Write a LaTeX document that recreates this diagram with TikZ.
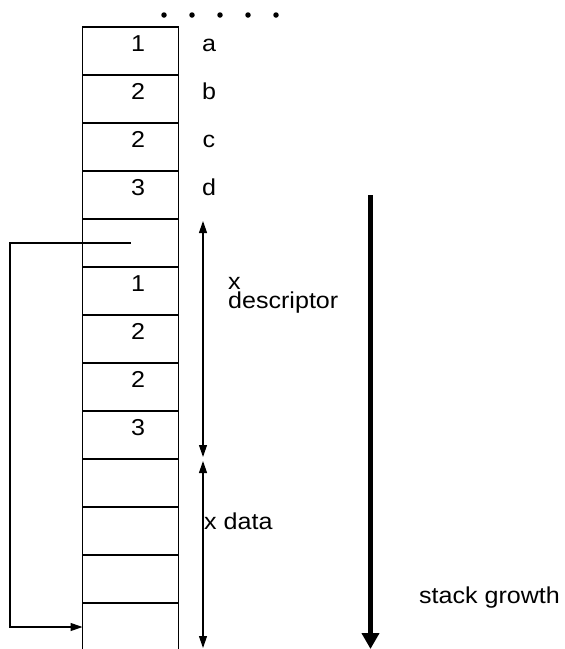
\documentclass[tikz,border=0pt]{standalone}
\usepackage{fontspec}
\setmainfont{Liberation Sans}[FakeStretch=1.09]
\usetikzlibrary{arrows.meta}
\begin{document}
\begin{tikzpicture}[x=1pt,y=-1pt,
  cell/.style={draw, line width=1.4pt, minimum width=96pt, minimum height=48pt,
               inner sep=0pt, outer sep=0pt},
  lbl/.style={font=\fontsize{23}{22}\selectfont, inner sep=0pt, anchor=base},
  lblw/.style={lbl, anchor=base west},
  thin/.style={line width=1.2pt},
  span/.style={thin, {Triangle[width=8pt,length=12pt]}-{Triangle[width=8pt,length=12pt]}},
  ptr/.style={thin, -{Triangle[width=8pt,length=12pt]}},
  growth/.style={line width=4.5pt, -{Triangle[width=17pt,length=16pt]}},
  dot/.style={circle, fill, inner sep=0pt, minimum size=5.5pt}]
\useasboundingbox (0,0) rectangle (565,649);

% stack cells
\foreach \i in {1,...,12}
  \node[cell] (c\i) at (130.5, {27+48*(\i-1)+24}) {};
% last cell, open at the bottom
\node[minimum width=96pt, minimum height=46pt, inner sep=0pt, outer sep=0pt] (c13) at (130.5, 626) {};
\draw[line width=1.4pt] (c13.south west) -- (c13.north west) -- (c13.north east) -- (c13.south east);

% continuation dots
\foreach \k in {0,...,4}
  \node[dot] (d\k) at ({164+28*\k}, 15) {};

% values in the cells
\node[lbl] (n1) at (138, 51) {1};
\node[lbl] (n2) at (138, 99) {2};
\node[lbl] (n3) at (138, 147) {2};
\node[lbl] (n4) at (138, 195) {3};
\node[lbl] (n6) at (138, 291) {1};
\node[lbl] (n7) at (138, 339) {2};
\node[lbl] (n8) at (138, 387) {2};
\node[lbl] (n9) at (138, 435) {3};

% parameter names
\node[lbl] (la) at (209, 51) {a};
\node[lbl] (lb) at (209, 99) {b};
\node[lbl] (lc) at (209, 147) {c};
\node[lbl] (ld) at (209, 195) {d};

% extents of descriptor and data
\coordinate (s1) at (203, 221);
\coordinate (s2) at (203, 457);
\coordinate (s3) at (203, 461);
\coordinate (s4) at (203, 648);
\draw[span] (s1) -- (s2);
\draw[span] (s3) -- (s4);
\node[lblw] (xname) at (228, 289) {x};
\node[lblw] (xdesc) at (228, 308) {descriptor};
\node[lblw] (xdata) at (204, 529) {x data};

% pointer from the descriptor to the data
\coordinate (p1) at (10, 243);
\coordinate (p2) at (10, 627);
\draw[ptr] (c5.center) -- (p1) -- (p2) -- (p2 -| c13.west);

% direction of growth
\coordinate (g1) at (370.5, 195);
\coordinate (g2) at (370.5, 649);
\draw[growth] (g1) -- (g2);
\node[lblw] (sg) at (419, 603) {stack growth};
\end{tikzpicture}
\end{document}
